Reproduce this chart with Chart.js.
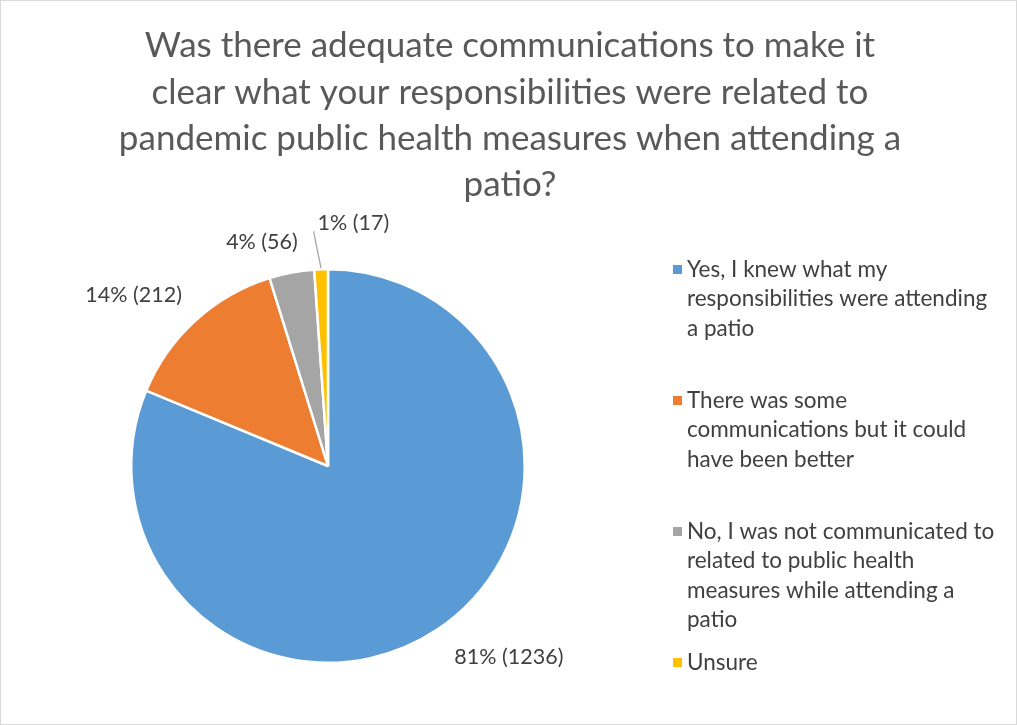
<!DOCTYPE html>
<html>
<head>
<meta charset="utf-8">
<script src="https://cdn.jsdelivr.net/npm/chart.js@4/dist/chart.umd.min.js"></script>
<style>
  html, body { margin: 0; padding: 0; background: #fff; }
  #wrap { width: 1015px; height: 723px; border: 1px solid #d9d9d9; }
</style>
</head>
<body>
<div id="wrap"><canvas id="patioPie" width="1015" height="723"></canvas></div>
<script>
const titleLines = [
    'Was there adequate communications to make it',
    'clear what your responsibilities were related to',
    'pandemic public health measures when attending a',
    'patio?'
];
const categories = [
    ['Yes, I knew what my', 'responsibilities were attending', 'a patio'],
    ['There was some', 'communications but it could', 'have been better'],
    ['No, I was not communicated to', 'related to public health', 'measures while attending a', 'patio'],
    ['Unsure']
];
const responses = [1236, 212, 56, 17];
const sliceColors = ['#5b9bd5', '#ed7d31', '#a5a5a5', '#ffc000'];

const FONT = 'Lato, "Open Sans", sans-serif';
const TEXT = '#404040';

// small shifts for the crowded labels at the top of the pie
const labelShift = [[6, 0], [0, 0], [-26, 0], [33, -16]];

const titlePlugin = {
    id: 'excelTitle',
    afterDraw(chart) {
        const ctx = chart.ctx;
        ctx.save();
        ctx.font = '35px ' + FONT;
        ctx.fillStyle = '#595959';
        ctx.textAlign = 'center';
        ctx.textBaseline = 'middle';
        titleLines.forEach((line, i) => ctx.fillText(line, 509, 45 + i * 46.3));
        ctx.restore();
    }
};

const legendPlugin = {
    id: 'sideLegend',
    afterDraw(chart) {
        const ctx = chart.ctx;
        ctx.save();
        ctx.font = '22.5px ' + FONT;
        ctx.textBaseline = 'middle';
        ctx.textAlign = 'left';
        categories.forEach((lines, i) => {
            const top = 269 + i * 131;
            ctx.fillStyle = sliceColors[i];
            ctx.fillRect(672, top - 5, 9, 9);
            ctx.fillStyle = TEXT;
            lines.forEach((t, j) => ctx.fillText(t, 686, top + j * 29.2));
        });
        ctx.restore();
    }
};

const valueLabels = {
    id: 'valueLabels',
    afterDatasetsDraw(chart) {
        const ctx = chart.ctx;
        const meta = chart.getDatasetMeta(0);
        const total = responses.reduce((a, b) => a + b, 0);
        ctx.save();
        ctx.font = '21.5px ' + FONT;
        ctx.fillStyle = TEXT;
        meta.data.forEach((arc, i) => {
            const mid = (arc.startAngle + arc.endAngle) / 2;
            const cos = Math.cos(mid), sin = Math.sin(mid);
            const r = arc.outerRadius + 20;
            let x = arc.x + r * cos;
            let y = arc.y + r * sin;
            const text = Math.round(responses[i] / total * 100) + '% (' + responses[i] + ')';
            ctx.textAlign = cos > 0.3 ? 'left' : (cos < -0.3 ? 'right' : 'center');
            ctx.textBaseline = sin > 0.3 ? 'top' : (sin < -0.3 ? 'bottom' : 'middle');
            const [dx, dy] = labelShift[i];
            x += dx; y += dy;
            if (Math.abs(dy) > 8) {
                // leader line from the slice edge to the moved label
                const w = ctx.measureText(text).width;
                ctx.strokeStyle = '#a6a6a6';
                ctx.lineWidth = 1.3;
                ctx.beginPath();
                ctx.moveTo(arc.x + (arc.outerRadius + 1) * cos, arc.y + (arc.outerRadius + 1) * sin);
                ctx.lineTo(x - w / 2 - 4, y - 2);
                ctx.stroke();
            }
            ctx.fillText(text, x, y);
        });
        ctx.restore();
    }
};

new Chart(document.getElementById('patioPie'), {
    type: 'pie',
    data: {
        labels: categories,
        datasets: [{
            data: responses,
            backgroundColor: sliceColors,
            borderColor: '#ffffff',
            borderWidth: 2.5
        }]
    },
    options: {
        responsive: false,
        animation: false,
        layout: { padding: { left: 129, right: 490, top: 267, bottom: 60 } },
        plugins: {
            legend: { display: false },
            title: { display: false },
            tooltip: { enabled: false }
        }
    },
    plugins: [valueLabels, titlePlugin, legendPlugin]
});
</script>
</body>
</html>
